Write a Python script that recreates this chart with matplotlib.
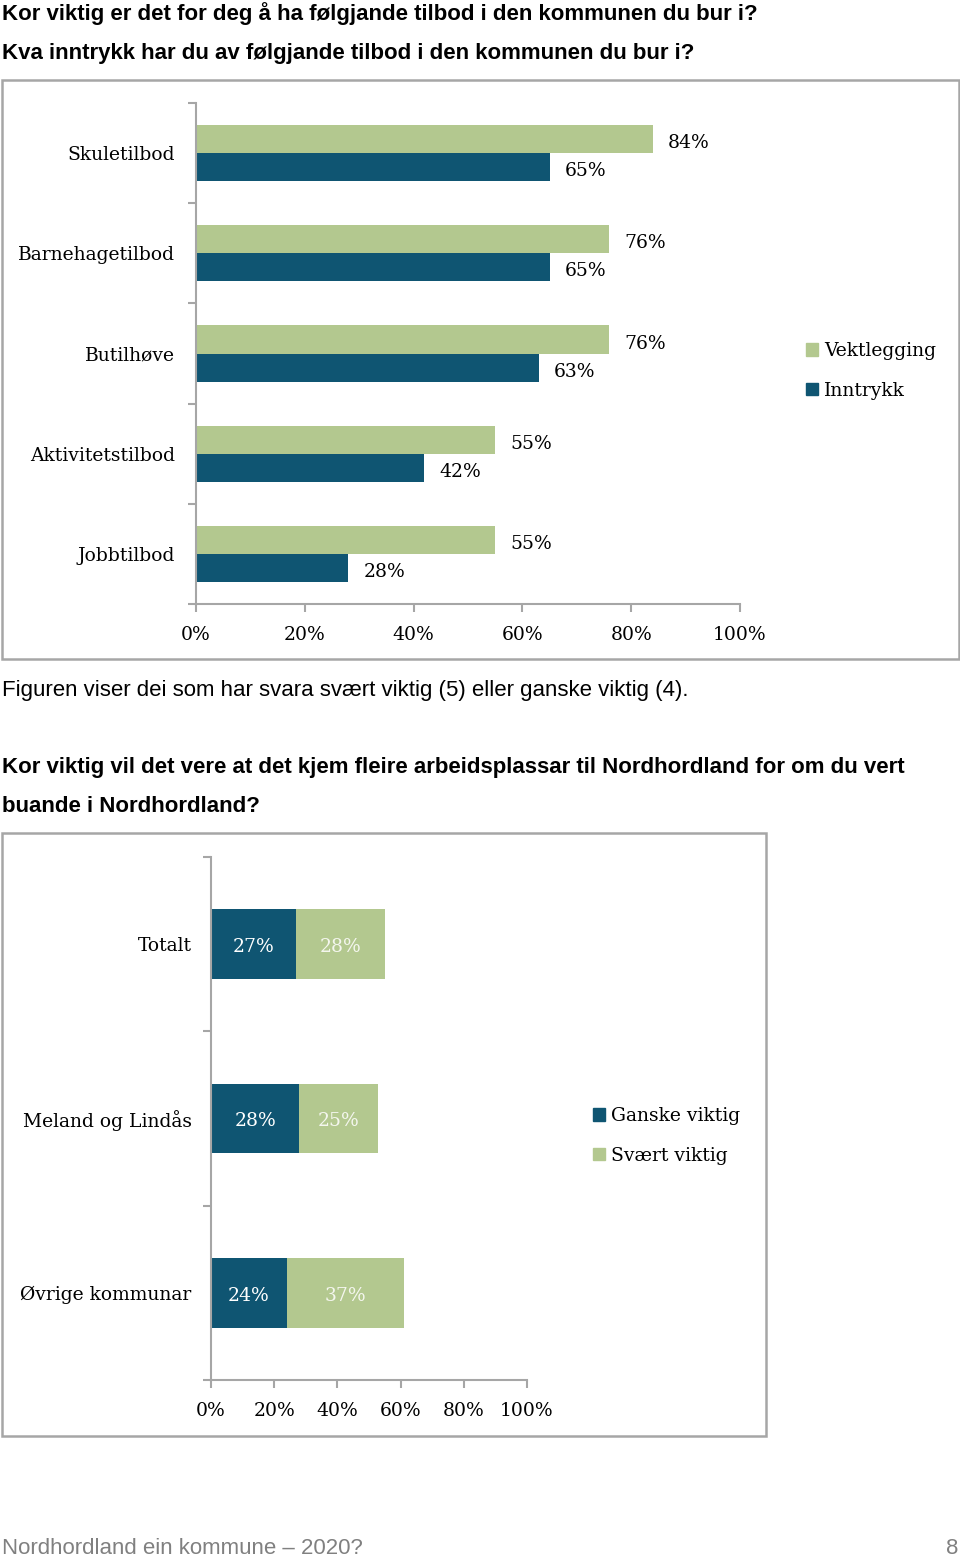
import matplotlib
matplotlib.use("Agg")
import matplotlib.pyplot as plt
from matplotlib.patches import Rectangle, Patch
import numpy as np

# chart 1: importance vs impression of services
tilbod = ["Skuletilbod", "Barnehagetilbod", "Butilhøve", "Aktivitetstilbod", "Jobbtilbod"]
vektlegging = [84, 76, 76, 55, 55]
inntrykk = [65, 65, 63, 42, 28]

# chart 2: more jobs in Nordhordland
grupper = ["Totalt", "Meland og Lindås", "Øvrige kommunar"]
ganske_viktig = [27, 28, 24]
svaert_viktig = [28, 25, 37]

xticks = [0, 20, 40, 60, 80, 100]

BLUE = "#0f5572"
GREEN = "#b3c88f"
GREY = "#a6a6a6"
SERIF = "DejaVu Serif"
SANS = "Liberation Sans"
FS = 13.5

W, H = 960, 1557
fig = plt.figure(figsize=(W / 100, H / 100), dpi=100)


def box(x0, y0, x1, y1):
    # pixel box (top-left origin) -> figure fraction
    return [x0 / W, 1 - y1 / H, (x1 - x0) / W, (y1 - y0) / H]


def ftext(x, y, s, **kw):
    fig.text(x / W, 1 - y / H, s, va="center", **kw)


def frame(x0, y0, x1, y1):
    fig.add_artist(Rectangle((x0 / W, 1 - y1 / H), (x1 - x0) / W, (y1 - y0) / H,
                             transform=fig.transFigure, fill=False, ec=GREY, lw=1.8))


def style(ax, labels, pad):
    n = len(labels)
    for s in ["top", "right"]:
        ax.spines[s].set_visible(False)
    for s in ["left", "bottom"]:
        ax.spines[s].set_color(GREY)
        ax.spines[s].set_linewidth(1.5)
    ax.set_xlim(0, 100)
    ax.set_ylim(n - 0.5, -0.5)
    ax.set_xticks(xticks)
    ax.set_xticklabels([f"{t}%" for t in xticks], family=SERIF, fontsize=FS)
    ax.set_yticks(np.arange(n))
    ax.set_yticklabels(labels, family=SERIF, fontsize=FS)
    ax.set_yticks(np.arange(n + 1) - 0.5, minor=True)
    ax.tick_params(axis="y", which="major", length=0, pad=pad)
    ax.tick_params(axis="y", which="minor", length=6, width=1.5, color=GREY)
    ax.tick_params(axis="x", length=6, width=1.5, color=GREY, pad=10)


def legend(ax, handles, x, y):
    ax.legend(handles=handles, loc="upper left", bbox_to_anchor=(x / W, 1 - y / H),
              bbox_transform=fig.transFigure, frameon=False, borderpad=0, borderaxespad=0,
              handlelength=0.65, handleheight=0.65, handletextpad=0.3, labelspacing=1.15,
              prop={"family": SERIF, "size": FS})


# texts
TS = 16
ftext(2, 14, "Kor viktig er det for deg å ha følgjande tilbod i den kommunen du bur i?",
      family=SANS, weight="bold", fontsize=TS)
ftext(2, 53, "Kva inntrykk har du av følgjande tilbod i den kommunen du bur i?",
      family=SANS, weight="bold", fontsize=TS)
ftext(2, 690, "Figuren viser dei som har svara svært viktig (5) eller ganske viktig (4).",
      family=SANS, fontsize=TS)
ftext(2, 767, "Kor viktig vil det vere at det kjem fleire arbeidsplassar til Nordhordland for om du vert",
      family=SANS, weight="bold", fontsize=TS)
ftext(2, 806, "buande i Nordhordland?", family=SANS, weight="bold", fontsize=TS)
ftext(2, 1549, "Nordhordland ein kommune – 2020?", family=SANS, fontsize=TS, color="#808080")
ftext(958, 1549, "8", family=SANS, fontsize=TS, color="#808080", ha="right")

# chart 1
frame(2, 80, 959, 659)
ax1 = fig.add_axes(box(196, 103, 740, 604))
y = np.arange(len(tilbod))
ax1.barh(y - 0.14, vektlegging, height=0.28, color=GREEN, label="Vektlegging")
ax1.barh(y + 0.14, inntrykk, height=0.28, color=BLUE, label="Inntrykk")
for yi, v in zip(y - 0.14, vektlegging):
    ax1.annotate(f"{v}%", (v, yi), xytext=(11, -3), textcoords="offset points",
                 va="center", family=SERIF, fontsize=FS)
for yi, v in zip(y + 0.14, inntrykk):
    ax1.annotate(f"{v}%", (v, yi), xytext=(11, -3), textcoords="offset points",
                 va="center", family=SERIF, fontsize=FS)
style(ax1, tilbod, 15)
legend(ax1, [Patch(color=GREEN, label="Vektlegging"), Patch(color=BLUE, label="Inntrykk")], 806, 342)

# chart 2
frame(2, 833, 766, 1436)
ax2 = fig.add_axes(box(211, 857, 527, 1380))
y = np.arange(len(grupper))
ax2.barh(y, ganske_viktig, height=0.4, color=BLUE, label="Ganske viktig")
ax2.barh(y, svaert_viktig, left=ganske_viktig, height=0.4, color=GREEN, label="Svært viktig")
for yi, a, b in zip(y, ganske_viktig, svaert_viktig):
    ax2.annotate(f"{a}%", (a / 2, yi), xytext=(0, -2), textcoords="offset points",
                 ha="center", va="center", color="white", family=SERIF, fontsize=FS)
    ax2.annotate(f"{b}%", (a + b / 2, yi), xytext=(0, -2), textcoords="offset points",
                 ha="center", va="center", color="#f4f6ee", family=SERIF, fontsize=FS)
style(ax2, grupper, 14)
legend(ax2, [Patch(color=BLUE, label="Ganske viktig"), Patch(color=GREEN, label="Svært viktig")], 593, 1107)

fig.savefig("out.png", dpi=100)
